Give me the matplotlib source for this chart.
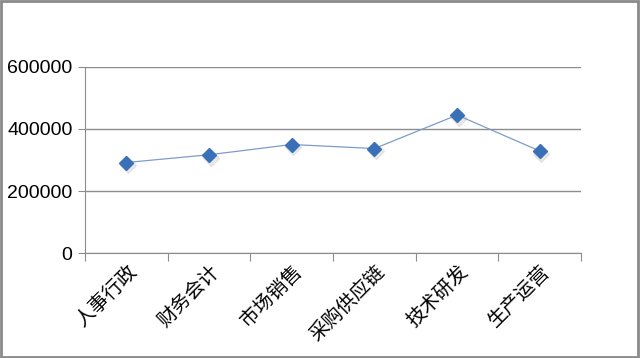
import matplotlib.pyplot as plt
from matplotlib.patches import Rectangle

plt.rcParams['font.family'] = ['Noto Sans CJK SC', 'DejaVu Sans']

departments = ['人事行政', '财务会计', '市场销售', '采购供应链', '技术研发', '生产运营']
values = [292000, 317000, 350000, 337000, 445000, 329000]
yticks = [0, 200000, 400000, 600000]

fig = plt.figure(figsize=(6.4, 3.58), dpi=100)
ax = fig.add_axes([0.133, 0.293, 0.775, 0.52])

xs = [i + 0.5 for i in range(len(departments))]
# faint shadow under markers
ax.plot([x + 0.02 for x in xs], [v - 9000 for v in values], linestyle='none', marker='D',
        markersize=8, color='#d0d0d0', alpha=0.45, zorder=2)
ax.plot(xs, values, color='#7d9cc8', linewidth=0.9, zorder=3)
ax.plot(xs, values, linestyle='none', marker='D', markersize=7,
        color='#3a70b8', markeredgecolor='#3a70b8', zorder=4)

ax.set_xlim(0, 6)
ax.set_ylim(0, 600000)
ax.set_yticks(yticks)
ax.set_yticklabels([str(t) for t in yticks], fontsize=14, family='Liberation Sans')
ax.yaxis.grid(True, color='#8c8c8c', linewidth=1)
ax.set_axisbelow(True)

ax.set_xticks(range(7))
ax.set_xticklabels([])
ax.set_xticks(xs, minor=True)
ax.set_xticklabels(departments, minor=True, rotation=45, ha='right', va='top',
                   rotation_mode='anchor', fontsize=14)
ax.tick_params(axis='x', which='major', length=6, color='#8c8c8c', direction='out')
ax.tick_params(axis='x', which='minor', length=0, pad=6)
ax.tick_params(axis='y', length=5, color='#8c8c8c', pad=4)

for side in ['top', 'right']:
    ax.spines[side].set_visible(False)
ax.spines['left'].set_color('#8c8c8c')
ax.spines['bottom'].set_color('#8c8c8c')

fig.patches.append(Rectangle((0.002, 0.003), 0.995, 0.993, transform=fig.transFigure,
                             fill=False, edgecolor='#8a8a8a', linewidth=2))

fig.savefig('out.png', dpi=100)
